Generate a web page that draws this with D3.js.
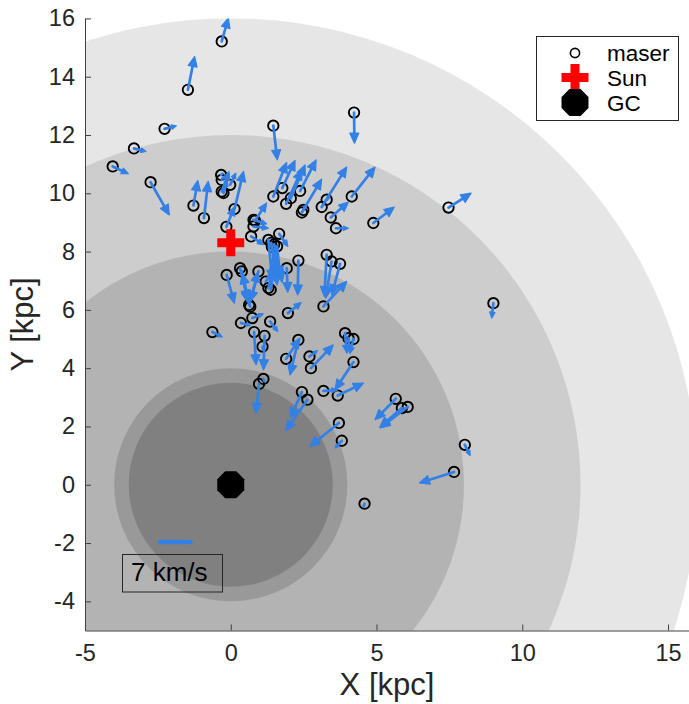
<!DOCTYPE html>
<html>
<head>
<meta charset="utf-8">
<script src="https://cdn.jsdelivr.net/npm/d3@7"></script>
<style>
  body { margin: 0; background: #fff; }
  text { font-family: "Liberation Sans", Arial, sans-serif; fill: #262626; }
</style>
</head>
<body>
<svg id="chart" width="689" height="704"></svg>
<script>
// maser positions [kpc]
const maserX = [-0.31,-1.47,-2.27,-3.32,-4.05,-2.75,1.46,-1.28,-0.92,-0.33,-0.31,-0.31,-0.25,-0.02,0.13,-0.15,
  1.46,1.77,2.06,1.90,2.38,2.49,2.44,3.12,3.29,4.15,3.43,3.61,4.89,4.23,7.47,9.01,
  0.83,0.78,0.78,0.70,1.66,1.29,1.39,1.49,1.59,1.41,2.32,1.92,-0.14,0.32,0.38,0.95,0.63,0.67,1.20,1.37,1.29,
  3.29,3.46,3.75,3.18,1.96,-0.63,0.35,0.74,1.35,0.80,1.16,1.09,1.12,0.97,2.32,1.90,2.70,2.75,
  3.92,4.04,4.21,4.21,3.18,3.67,2.44,2.63,3.71,3.81,5.66,5.87,6.07,8.03,7.66,4.59];
const maserY = [15.21,13.55,12.21,11.54,10.92,10.38,12.32,9.58,9.15,10.63,10.46,10.06,10.01,10.29,9.46,8.85,
  9.89,10.18,9.83,9.64,10.08,9.43,9.34,9.53,9.78,9.89,9.17,8.80,8.98,12.77,9.51,6.23,
  9.06,9.09,8.86,8.52,8.61,8.40,8.30,8.25,8.18,8.16,7.69,7.43,7.20,7.43,7.32,7.32,6.17,6.11,6.97,6.69,6.75,
  7.89,7.66,7.58,6.12,5.89,5.24,5.55,5.72,5.60,5.24,5.11,4.74,3.63,3.46,4.97,4.32,4.40,4.00,
  5.20,5.03,5.00,4.21,3.22,3.06,3.18,2.92,2.12,1.51,2.95,2.63,2.67,1.37,0.44,-0.65];
// maser velocities [km/s]
const maserVx = [1.53,1.53,2.68,2.74,3.59,4.28,0.91,0.98,0.98,0.23,0.23,1.67,0.91,1.30,2.06,1.83,
  3.04,2.90,3.27,3.59,3.66,4.19,1.14,5.72,0.69,5.33,4.05,2.84,4.80,0.09,5.17,-0.39,
  2.68,2.97,3.43,2.84,1.99,0.91,1.37,1.83,0.69,2.29,-0.16,0.23,1.76,1.83,1.37,-1.83,2.06,-1.83,1.14,1.14,1.83,
  -0.53,-1.37,-1.90,5.33,3.04,2.29,2.13,2.52,1.76,0.46,-0.23,0.23,0.23,-0.69,-1.92,3.20,1.83,5.12,
  0.46,0.37,-0.78,-4.21,3.20,5.88,-2.68,-4.96,-6.63,-1.53,-4.73,-5.03,-6.33,1.21,-7.91,-0.23];
const maserVy = [5.35,7.62,0.69,-0.69,-1.67,-7.48,-7.84,5.72,8.39,0.23,0.46,4.57,2.74,2.68,8.60,4.57,
  7.78,6.33,7.62,7.78,7.09,7.02,1.83,9.15,0.69,6.72,3.52,0.00,3.66,-7.00,3.29,-3.43,
  4.05,-0.91,-0.39,-1.90,-2.90,-9.15,-9.61,-8.69,-6.86,-7.55,-7.84,-5.49,-6.47,-7.32,-7.09,-6.86,7.55,7.55,1.83,6.86,8.00,
  -9.54,-8.37,-7.09,5.72,2.42,-1.14,-0.55,0.98,-2.29,-7.48,-7.78,-0.91,-0.46,-6.70,-8.00,4.73,1.37,5.33,
  -4.57,-3.43,-3.20,-6.33,0.23,2.84,-5.95,-7.09,-5.35,-1.67,-4.80,-4.35,-4.80,-2.45,-2.52,-0.69];

const ringRadii = [16, 12, 8, 4, 3.5];   // kpc
const sunPos = [0, 8.3];
const gcPos = [0, 0];
const scaleBarVel = 7;                   // km/s
const scaleBarPos = [-2.43, -1.96];
const xTicks = [-5, 0, 5, 10, 15];
const yTicks = [-4, -2, 0, 2, 4, 6, 8, 10, 12, 14, 16];
const legendLabels = ["maser", "Sun", "GC"];

const kpcPerKms = 0.15;
const blue = "#3380e6";
const ringFill = ["#e6e6e6", "#cdcdcd", "#b3b3b3", "#999999", "#808080"];

const svg = d3.select("#chart");
const x = d3.scaleLinear().domain([-5, 15.72]).range([85, 689]);
const y = d3.scaleLinear().domain([-5, 16]).range([630.5, 18.4]);

svg.append("clipPath").attr("id", "plotclip")
  .append("rect")
  .attr("x", x(-5)).attr("y", y(16))
  .attr("width", x(15.72) - x(-5)).attr("height", y(-5) - y(16));

const plot = svg.append("g").attr("clip-path", "url(#plotclip)");

plot.selectAll("circle.ring")
  .data(ringRadii)
  .enter().append("circle")
  .attr("class", "ring")
  .attr("cx", x(gcPos[0]))
  .attr("cy", y(gcPos[1]))
  .attr("r", d => x(d) - x(0))
  .attr("fill", (d, i) => ringFill[i]);

// axes (plain hyphen minus like the original)
const fmt = d => String(d);
const xAxis = svg.append("g")
  .attr("transform", `translate(0,${y(-5)})`)
  .call(d3.axisBottom(x).tickValues(xTicks).tickFormat(fmt)
    .tickSizeInner(-6).tickSizeOuter(0).tickPadding(14));
const yAxis = svg.append("g")
  .attr("transform", `translate(${x(-5)},0)`)
  .call(d3.axisLeft(y).tickValues(yTicks).tickFormat(fmt)
    .tickSizeInner(-6).tickSizeOuter(0).tickPadding(10));

[xAxis, yAxis].forEach(a => {
  a.attr("font-family", null).attr("font-size", null);
  a.selectAll("path, line").attr("stroke", "#404040").attr("stroke-width", 1);
  a.selectAll("text").attr("fill", "#262626").style("font-size", "23.5px");
});

svg.append("text")
  .attr("x", (x(-5) + 689) / 2)
  .attr("y", 695)
  .attr("text-anchor", "middle")
  .style("font-size", "31px")
  .text("X [kpc]");

svg.append("text")
  .attr("transform", `translate(33,${(y(16) + y(-5)) / 2}) rotate(-90)`)
  .attr("text-anchor", "middle")
  .style("font-size", "31px")
  .text("Y [kpc]");

// masers
const masers = maserX.map((d, i) => ({ x: d, y: maserY[i], vx: maserVx[i], vy: maserVy[i] }));

plot.selectAll("circle.maser")
  .data(masers)
  .enter().append("circle")
  .attr("class", "maser")
  .attr("cx", d => x(d.x))
  .attr("cy", d => y(d.y))
  .attr("r", 5.2)
  .attr("fill", "none")
  .attr("stroke", "#000")
  .attr("stroke-width", 1.9);

function drawArrow(g, x0, y0, x1, y1) {
  const dx = x1 - x0, dy = y1 - y0;
  const len = Math.hypot(dx, dy);
  if (len < 0.5) return;
  const ux = dx / len, uy = dy / len;
  const h = Math.min(10, len * 0.4), w = h * 0.45;
  const bx = x1 - ux * h, by = y1 - uy * h;
  g.append("line")
    .attr("x1", x0).attr("y1", y0).attr("x2", bx + ux).attr("y2", by + uy)
    .attr("stroke", blue).attr("stroke-width", 2.7).attr("stroke-linecap", "round");
  g.append("path")
    .attr("d", `M${x1},${y1}L${bx - uy * w},${by + ux * w}L${bx + uy * w},${by - ux * w}Z`)
    .attr("fill", blue).attr("stroke", blue).attr("stroke-width", 1.2).attr("stroke-linejoin", "round");
}

const arrows = plot.append("g");
masers.forEach(d => {
  drawArrow(arrows, x(d.x), y(d.y), x(d.x + d.vx * kpcPerKms), y(d.y + d.vy * kpcPerKms));
});

// scale bar
plot.append("line")
  .attr("x1", x(scaleBarPos[0])).attr("y1", y(scaleBarPos[1]))
  .attr("x2", x(scaleBarPos[0] + scaleBarVel * kpcPerKms)).attr("y2", y(scaleBarPos[1]))
  .attr("stroke", blue).attr("stroke-width", 4.5).attr("stroke-linecap", "round");

plot.append("rect")
  .attr("x", 122.5).attr("y", 554.5).attr("width", 100).attr("height", 37.5)
  .attr("fill", "none").attr("stroke", "#262626").attr("stroke-width", 1);
plot.append("text")
  .attr("x", 131).attr("y", 581)
  .style("font-size", "26px")
  .style("fill", "#000")
  .text(scaleBarVel + " km/s");

// Sun and GC
const crossSym = d3.symbol().type(d3.symbolCross).size(405);
const octagon = r => d3.range(8).map(k => {
  const a = Math.PI / 8 + k * Math.PI / 4;
  return [r * Math.cos(a), r * Math.sin(a)];
});
const octPath = "M" + octagon(14.6).join("L") + "Z";

plot.append("path")
  .attr("d", crossSym())
  .attr("transform", `translate(${x(sunPos[0])},${y(sunPos[1])})`)
  .attr("fill", "#ff0000");
plot.append("path")
  .attr("d", octPath)
  .attr("transform", `translate(${x(gcPos[0])},${y(gcPos[1])})`)
  .attr("fill", "#000");

// legend
const legend = svg.append("g").attr("transform", "translate(536,36)");
legend.append("rect")
  .attr("x", 0.5).attr("y", 0.5).attr("width", 142).attr("height", 84)
  .attr("fill", "#fff").attr("stroke", "#262626").attr("stroke-width", 1);
const rowY = [17, 41.5, 66.5];
legend.append("circle")
  .attr("cx", 39).attr("cy", rowY[0]).attr("r", 4.6)
  .attr("fill", "none").attr("stroke", "#000").attr("stroke-width", 1.6);
legend.append("path").attr("d", crossSym())
  .attr("transform", `translate(39,${rowY[1]})`).attr("fill", "#ff0000");
legend.append("path").attr("d", octPath)
  .attr("transform", `translate(39,${rowY[2]})`).attr("fill", "#000");
legend.selectAll("text.lbl")
  .data(legendLabels)
  .enter().append("text")
  .attr("class", "lbl")
  .attr("x", 71)
  .attr("y", (d, i) => rowY[i])
  .attr("dy", "0.36em")
  .style("font-size", "22.5px")
  .style("fill", "#000")
  .text(d => d);
</script>
</body>
</html>
